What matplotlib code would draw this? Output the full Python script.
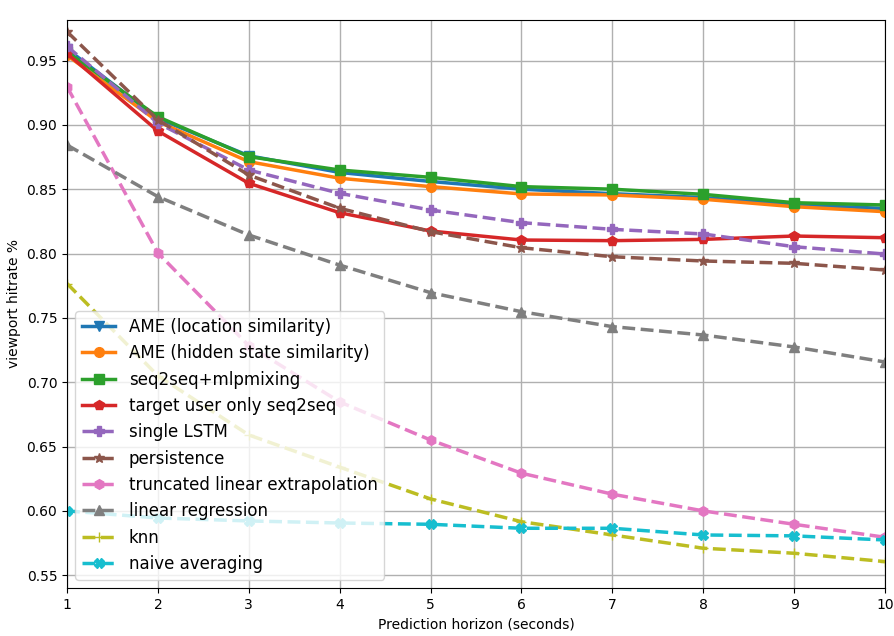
import numpy as np
import matplotlib
matplotlib.use('Agg')
import matplotlib.pyplot as plt

horizon = [1, 2, 3, 4, 5, 6, 7, 8, 9, 10]

ame_loc = [0.959, 0.905, 0.876, 0.863, 0.856, 0.850, 0.8465, 0.8435, 0.838, 0.835]
ame_hidden = [0.954, 0.9025, 0.8714, 0.8585, 0.852, 0.8463, 0.8455, 0.8422, 0.8364, 0.8325]
seq2seq_mlp = [0.9568, 0.9063, 0.8753, 0.8649, 0.8592, 0.852, 0.850, 0.846, 0.8395, 0.8377]
target_only = [0.9555, 0.8952, 0.8546, 0.8317, 0.8175, 0.8105, 0.810, 0.811, 0.8136, 0.8123]
single_lstm = [0.961, 0.9014, 0.8649, 0.8468, 0.8338, 0.824, 0.8188, 0.8152, 0.8053, 0.7996]
persistence = [0.9724, 0.9038, 0.861, 0.8352, 0.817, 0.8045, 0.7975, 0.7942, 0.7924, 0.7872]
trunc_linear = [0.9296, 0.8004, 0.7284, 0.6847, 0.6551, 0.6293, 0.613, 0.600, 0.5896, 0.5795]
lin_reg = [0.8843, 0.8442, 0.8144, 0.791, 0.7696, 0.7548, 0.7432, 0.7367, 0.7274, 0.7157]
knn = [0.7767, 0.705, 0.659, 0.634, 0.6093, 0.5916, 0.5813, 0.571, 0.5671, 0.5606]
naive_avg = [0.600, 0.5945, 0.5922, 0.5906, 0.5896, 0.5865, 0.5865, 0.5813, 0.5806, 0.5774]

series = [
    ('AME (location similarity)', ame_loc, 'v', '-'),
    ('AME (hidden state similarity)', ame_hidden, 'o', '-'),
    ('seq2seq+mlpmixing', seq2seq_mlp, 's', '-'),
    ('target user only seq2seq', target_only, 'p', '-'),
    ('single LSTM', single_lstm, 'P', '--'),
    ('persistence', persistence, '*', '--'),
    ('truncated linear extrapolation', trunc_linear, 'h', '--'),
    ('linear regression', lin_reg, '^', '--'),
    ('knn', knn, '+', '--'),
    ('naive averaging', naive_avg, 'X', '--'),
]

fig = plt.figure(figsize=(8.95, 6.36), dpi=100)
ax = fig.add_axes([0.0749, 0.0755, 0.9139, 0.8931])

for i, (label, vals, marker, ls) in enumerate(series):
    ax.plot(horizon, vals, color='C%d' % i, marker=marker, linestyle=ls,
            linewidth=2.5, markersize=7, label=label)

ax.set_xlim(1, 10)
ax.set_ylim(0.5401, 0.9815)
ax.set_xticks(horizon)
ax.set_yticks(np.arange(0.55, 0.951, 0.05))
ax.grid(True, color='#b0b0b0', linewidth=1)
ax.set_xlabel('Prediction horizon (seconds)')
ax.set_ylabel('viewport hitrate %')
ax.legend(loc='lower left', fontsize=12, bbox_to_anchor=(0.0, 0.0))

fig.savefig('out.png', dpi=100)
